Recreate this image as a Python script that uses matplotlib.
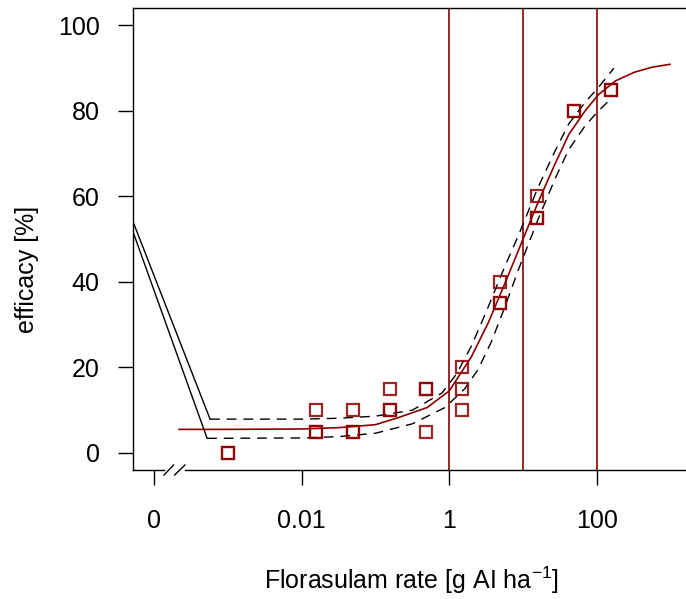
import numpy as np
import matplotlib
matplotlib.use("Agg")
import matplotlib.pyplot as plt

# observed data (dose 0 shown at the broken-axis position 1e-4)
dose_obs = [0.001, 0.001,
            0.0156, 0.0156, 0.0156,
            0.049, 0.049, 0.049,
            0.156, 0.156, 0.156,
            0.49, 0.49, 0.49,
            1.5, 1.5, 1.5,
            4.9, 4.9, 4.9,
            15.6, 15.6, 15.6,
            49, 49,
            155, 155]
eff_obs = [0, 0,
           10, 5, 5,
           10, 5, 5,
           15, 10, 10,
           15, 15, 5,
           20, 15, 10,
           40, 35, 35,
           60, 55, 55,
           80, 80,
           85, 85]

# fitted curve (log10 dose)
fit_logdose = [-3.66, -3, -2, -1.5, -1, -0.7, -0.3, 0, 0.3, 0.53, 0.75, 0.94,
               1.2, 1.43, 1.62, 1.84, 2.02, 2.25, 2.5, 2.74, 2.99]
fit_eff = [5.5, 5.5, 5.6, 5.9, 6.6, 8.2, 10.6, 14.5, 22.5, 30.5, 39.5, 47.5,
           58.5, 67.5, 74.5, 80, 83.8, 87, 89, 90.2, 90.9]

# confidence band
upper_logdose = [-3.24, -2, -1.5, -1, -0.5, -0.1, 0.1, 0.3, 0.5, 0.75, 0.94,
                 1.2, 1.43, 1.62, 1.84, 2.02, 2.23]
upper_eff = [7.9, 7.9, 8.1, 8.6, 10.0, 14.0, 18.5, 25, 33, 43.5, 51,
             62, 70.5, 77, 82, 85.5, 90]
lower_logdose = [-3.28, -2, -1.5, -1, -0.5, -0.06, 0.21, 0.39, 0.57, 0.75, 0.94,
                 1.2, 1.43, 1.62, 1.84, 2.02, 2.16]
lower_eff = [3.4, 3.5, 3.8, 4.6, 6.8, 10.6, 15, 19.5, 26, 34, 43,
             54.5, 64, 71, 76.5, 80, 82.3]

# band ends joined back towards the control
join_logdose = [-4.3, -3.24]
join_upper = [54.8, 7.9]
join_lower_logdose = [-4.3, -3.28]
join_lower = [52.5, 3.4]

ref_doses = [1, 10, 100]
xtick_pos = [1e-4, 0.01, 1, 100]
xtick_labels = ["0", "0.01", "1", "100"]
yticks = [0, 20, 40, 60, 80, 100]

RED = "#8B0000"
FS = 18

plt.rcParams.update({
    "font.family": ["Liberation Sans", "DejaVu Sans"],
    "mathtext.fontset": "custom",
    "mathtext.rm": "Liberation Sans",
    "mathtext.it": "Liberation Sans:italic",
    "font.size": FS,
})

W, H = 686, 599
fig = plt.figure(figsize=(W / 100, H / 100), dpi=100)
left, right, top, bottom = 133, 701, 8.3, 470
ax = fig.add_axes([left / W, 1 - bottom / H, (right - left) / W, (bottom - top) / H])

ax.set_xscale("log")
ax.set_xlim(10 ** -4.284, 10 ** 3.41)
ax.set_ylim(-4, 104)

for d in ref_doses:
    ax.axvline(d, color=RED, lw=1.2)

ax.plot(10 ** np.array(join_logdose), join_upper, color="black", lw=1.0)
ax.plot(10 ** np.array(join_lower_logdose), join_lower, color="black", lw=1.0)
ax.plot(10 ** np.array(upper_logdose), upper_eff, color="black", lw=1.0, dashes=(7, 5))
ax.plot(10 ** np.array(lower_logdose), lower_eff, color="black", lw=1.0, dashes=(7, 5))
ax.plot(10 ** np.array(fit_logdose), fit_eff, color=RED, lw=1.2)

ax.plot(dose_obs, eff_obs, ls="none", marker="s", ms=8.6, mfc="none",
        mec=RED, mew=1.6, alpha=0.85)

ax.set_xticks(xtick_pos)
ax.set_xticklabels(xtick_labels)
ax.xaxis.set_minor_locator(matplotlib.ticker.NullLocator())
ax.set_yticks(yticks)
ax.tick_params(axis="both", direction="out", length=11, width=1.0, labelsize=FS)
ax.tick_params(axis="x", pad=17)
ax.tick_params(axis="y", pad=13)

for s in ["top", "left"]:
    ax.spines[s].set_linewidth(1.0)
ax.spines["right"].set_visible(False)
ax.spines["bottom"].set_visible(False)

# bottom spine with axis break
xt = ax.get_xaxis_transform()
b1, b2 = 10 ** -3.864, 10 ** -3.58
ax.plot([10 ** -4.284, b1], [0, 0], color="black", lw=1.0, transform=xt, clip_on=False)
ax.plot([b2, 10 ** 3.41], [0, 0], color="black", lw=1.0, transform=xt, clip_on=False)
dy = 5 / (bottom - top)
for a, b in [(-3.864, -3.735), (-3.72, -3.58)]:
    ax.plot([10 ** a, 10 ** b], [-dy, dy], color="black", lw=1.0,
            transform=xt, clip_on=False)

fig.text(27 / W, 1 - 269 / H, "efficacy [%]", rotation=90, ha="center",
         va="center", fontsize=FS)
fig.text(411 / W, 1 - 589 / H, r"Florasulam rate [g AI ha$^{-1}$]",
         ha="center", va="baseline", fontsize=FS)

fig.savefig("out.png", dpi=100)
